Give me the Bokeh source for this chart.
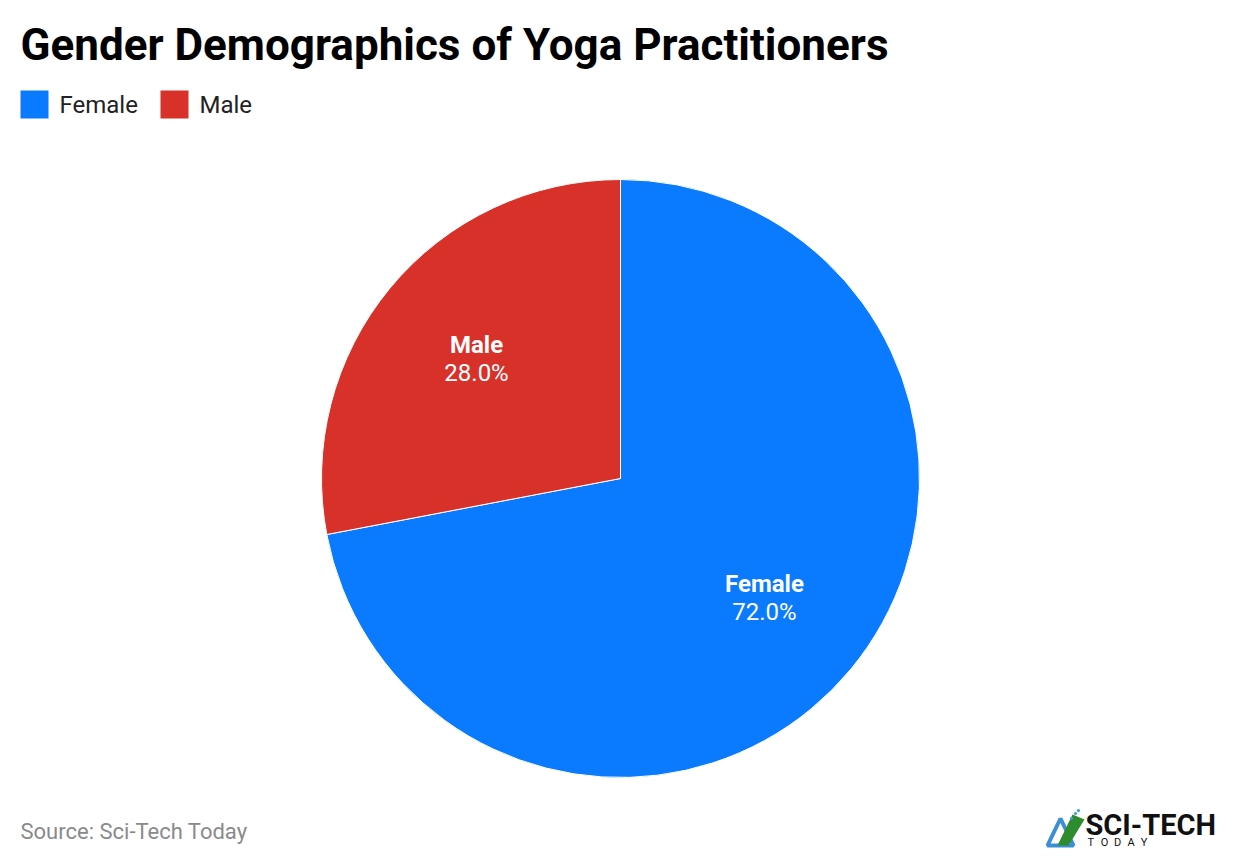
import math
from bokeh.plotting import figure
from bokeh.models import ColumnDataSource
from bokeh.core.properties import value
from bokeh.embed import file_html
from bokeh.resources import INLINE

# ---- data ----
categories = ["Female", "Male"]
shares = [72.0, 28.0]
colors = ["#0A7AFF", "#D8312A"]
title_text = "Gender Demographics of Yoga Practitioners"
source_text = "Source: Sci-Tech Today"

W, H = 1224, 848
FONT = "Roboto"

def X(rx):
    return rx

def Y(ry):
    return H - ry

p = figure(width=W, height=H, x_range=(0, W), y_range=(0, H),
           output_backend="svg", toolbar_location=None,
           min_border=0, outline_line_color=None)
p.axis.visible = False
p.grid.visible = False
p.background_fill_color = "white"
p.border_fill_color = "white"

# ---- pie ----
cx, cy, R = X(620), Y(478), 299
total = sum(shares)
starts, ends, lx, ly = [], [], [], []
cur = math.pi / 2  # start at top, go clockwise
for s in shares:
    span = 2 * math.pi * s / total
    a0 = cur - span
    starts.append(a0)
    ends.append(cur)
    mid = (a0 + cur) / 2
    lx.append(cx + 0.625 * R * math.cos(mid))
    ly.append(cy + 0.625 * R * math.sin(mid))
    cur = a0

src = ColumnDataSource(dict(start=starts, end=ends, color=colors,
                            cat=categories,
                            pct=[f"{s:.1f}%" for s in shares],
                            lx=lx, ly=ly,
                            ly1=[v + 14 for v in ly], ly2=[v - 14 for v in ly]))
p.wedge(x=cx, y=cy, radius=R, start_angle="start", end_angle="end",
        fill_color="color", line_color="white", line_width=1, source=src)

p.text(x="lx", y="ly1", text="cat", source=src, text_color="white",
       text_font=value(FONT), text_font_style="bold", text_font_size="24px",
       text_align="center", text_baseline="middle")
p.text(x="lx", y="ly2", text="pct", source=src, text_color="white",
       text_font=value(FONT), text_font_size="24px",
       text_align="center", text_baseline="middle")

# ---- title ----
p.text(x=[X(20)], y=[Y(44)], text=[title_text], text_color="#000000",
       text_font=value(FONT), text_font_style="bold", text_font_size="44px",
       text_align="left", text_baseline="middle")

# ---- legend ----
leg_sq_x = [X(34), X(174)]
leg_tx_x = [X(59), X(199)]
p.rect(x=leg_sq_x, y=[Y(104)] * 2, width=28, height=28,
       fill_color=colors, line_color=None)
p.text(x=leg_tx_x, y=[Y(104)] * 2, text=categories, text_color="#222222",
       text_font=value(FONT), text_font_size="24px",
       text_align="left", text_baseline="middle")

# ---- source ----
p.text(x=[X(20)], y=[Y(831)], text=[source_text], text_color="#8a8a8a",
       text_font=value(FONT), text_font_size="22px",
       text_align="left", text_baseline="middle")

# ---- logo ----
p.patch(x=[X(1047), X(1060), X(1073)], y=[Y(845), Y(818), Y(845)],
        fill_color=None, line_color="#3a8fd6", line_width=4)
p.patch(x=[X(1057), X(1072), X(1084), X(1068)],
        y=[Y(845), Y(814), Y(819), Y(845)],
        fill_color="#2e8b2e", line_color=None)
p.circle(x=[X(1071), X(1075), X(1078)], y=[Y(818), Y(813), Y(810)],
         radius=1.6, fill_color="#3aa0d8", line_color=None)
p.text(x=[X(1085)], y=[Y(824)], text=["SCI-TECH"], text_color="#111111",
       text_font=value(FONT), text_font_style="bold", text_font_size="29px",
       text_align="left", text_baseline="middle")
today = list("TODAY")
p.text(x=[X(1087 + i * 13.3) for i in range(len(today))], y=[Y(842)] * 5,
       text=today, text_color="#111111", text_font=value(FONT),
       text_font_size="11px", text_align="left", text_baseline="middle")

open("out.html", "w").write(file_html(p, INLINE))
